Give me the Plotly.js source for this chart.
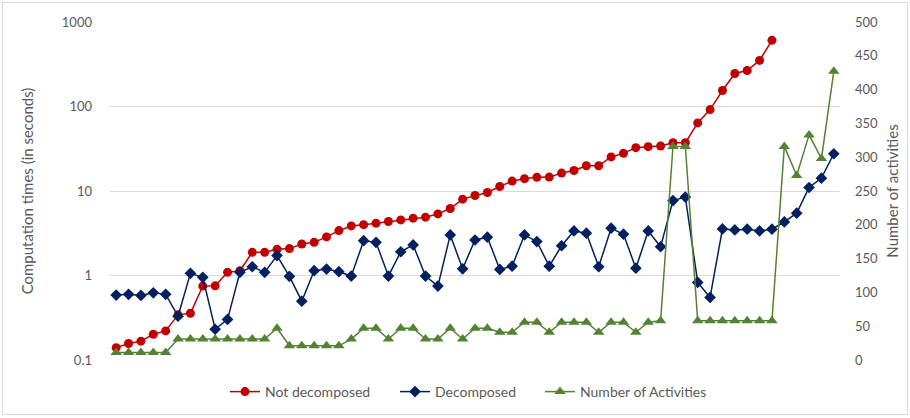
<!DOCTYPE html>
<html>
<head>
<meta charset="utf-8">
<script src="https://cdn.plot.ly/plotly-3.0.1.min.js"></script>
<style>
  html, body { margin: 0; padding: 0; background: #fff; }
  #wrap { position: relative; width: 910px; height: 418px; }
  #chart { width: 910px; height: 418px; }
  #frame { position: absolute; left: 2px; top: 2px; width: 904px; height: 411px; border: 1px solid #d9d9d9; pointer-events: none; }
</style>
</head>
<body>
<div id="wrap"><div id="chart"></div><div id="frame"></div></div>
<script>
// Instance index (category axis, no labels shown)
const instances = Array.from({length: 59}, (_, i) => i + 1);

// Computation time without decomposition (seconds); missing for the last instances
const notDecomposed = [
  0.140, 0.157, 0.167, 0.202, 0.221, 0.342, 0.358, 0.750, 0.755, 1.09,
  1.14, 1.88, 1.88, 2.04, 2.08, 2.36, 2.47, 2.86, 3.40, 3.86,
  4.00, 4.16, 4.35, 4.55, 4.77, 4.90, 5.36, 6.20, 8.01, 8.84,
  9.6, 11.3, 13.1, 14.0, 14.5, 14.6, 16.3, 17.5, 19.9, 19.9,
  25.3, 27.9, 32.6, 33.5, 34.1, 37.3, 37.3, 64.0, 92.0, 154.5,
  246, 267, 351, 607, null, null, null, null, null
];

// Computation time with decomposition (seconds)
const decomposed = [
  0.586, 0.598, 0.581, 0.624, 0.598, 0.330, 1.06, 0.951, 0.231, 0.302,
  1.09, 1.27, 1.09, 1.72, 0.977, 0.497, 1.14, 1.19, 1.11, 0.985,
  2.58, 2.47, 0.985, 1.91, 2.30, 0.985, 0.750, 3.02, 1.20, 2.63,
  2.84, 1.18, 1.29, 3.02, 2.52, 1.29, 2.25, 3.37, 3.17, 1.27,
  3.63, 3.08, 1.22, 3.37, 2.19, 7.71, 8.47, 0.829, 0.550, 3.56,
  3.46, 3.53, 3.37, 3.53, 4.31, 5.47, 11.0, 14.2, 27.6
];

// Number of activities (right axis)
const activities = [
  11, 11, 11, 11, 11, 31, 31, 31, 31, 31,
  31, 31, 31, 47, 21, 21, 21, 21, 21, 31,
  47, 47, 31, 47, 47, 31, 31, 47, 31, 47,
  47, 41, 41, 56, 56, 41, 56, 56, 56, 41,
  56, 56, 41, 56, 58, 316, 316, 58, 58, 58,
  58, 58, 58, 58, 316, 273, 333, 298, 427
];

const leftTicks = [0.1, 1, 10, 100, 1000];
const leftTickText = ['0.1', '1', '10', '100', '1000'];

const FONT = 'Lato, "Open Sans", "Liberation Sans", sans-serif';
const GRAY = '#595959';

const traces = [
  {
    x: instances, y: notDecomposed, name: 'Not decomposed', type: 'scatter', mode: 'lines+markers',
    line: {color: '#C00000', width: 1.5},
    marker: {symbol: 'circle', size: 9, color: '#C00000'},
    connectgaps: false, yaxis: 'y', legend: 'legend'
  },
  {
    x: instances, y: decomposed, name: 'Decomposed', type: 'scatter', mode: 'lines+markers',
    line: {color: '#002060', width: 1.5},
    marker: {symbol: 'diamond', size: 9, color: '#002060'},
    yaxis: 'y', legend: 'legend2'
  },
  {
    x: instances, y: activities, name: 'Number of Activities', type: 'scatter', mode: 'lines+markers',
    line: {color: '#548235', width: 1.5},
    marker: {symbol: 'triangle-up', size: 10, color: '#548235'},
    yaxis: 'y2', legend: 'legend3'
  }
];

function leg(px) {
  return {
    orientation: 'h', xref: 'container', x: px / 910, xanchor: 'left',
    yref: 'container', y: (418 - 392) / 418, yanchor: 'middle',
    font: {family: FONT, size: 14, color: GRAY}, itemwidth: 30, bgcolor: 'rgba(0,0,0,0)'
  };
}

const layout = {
  width: 910, height: 418,
  margin: {l: 110, r: 70, t: 22, b: 58, pad: 0},
  paper_bgcolor: '#ffffff', plot_bgcolor: '#ffffff',
  font: {family: FONT, size: 13, color: GRAY},
  showlegend: true,
  legend: leg(225),
  legend2: leg(395),
  legend3: leg(540),
  xaxis: {
    type: 'linear', range: [0.5, 59.5], showgrid: false, zeroline: false,
    showticklabels: false, ticks: '', showline: false, fixedrange: true
  },
  yaxis: {
    type: 'log', range: [-1, 3], tickvals: leftTicks, ticktext: leftTickText,
    showgrid: true, gridcolor: '#d9d9d9', gridwidth: 1, zeroline: false, showline: false,
    ticks: '', ticklabelstandoff: 17,
    tickfont: {family: FONT, size: 13, color: GRAY},
    title: {text: 'Computation times (in seconds)', font: {family: FONT, size: 15, color: GRAY}, standoff: 24}
  },
  yaxis2: {
    overlaying: 'y', side: 'right', range: [0, 500], dtick: 50, tick0: 0,
    showgrid: false, zeroline: false, showline: false, ticks: '', ticklabelstandoff: 14,
    tickfont: {family: FONT, size: 13, color: GRAY},
    title: {text: 'Number of activities', font: {family: FONT, size: 15, color: GRAY}, standoff: 10}
  }
};

Plotly.newPlot('chart', traces, layout, {displayModeBar: false, staticPlot: true});
</script>
</body>
</html>
